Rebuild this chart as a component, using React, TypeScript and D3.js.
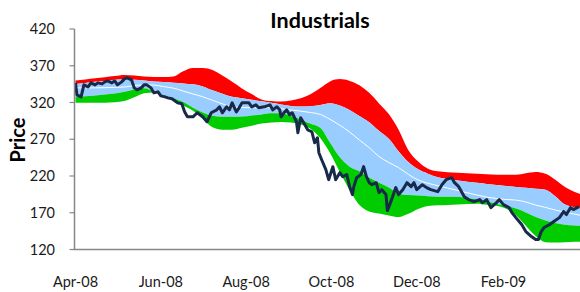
import React from 'react';
import * as d3 from 'd3';

const width = 580;
const height = 292;
const plot = { left: 74.5, right: 580, top: 29, bottom: 249.5 };

const red = '#ff0000';
const blue = '#99ccff';
const green = '#00cc00';
const navy = '#18294a';
const axisGrey = '#878787';
const font = 'Lato, "Open Sans", sans-serif';

const title = 'Industrials';
const yLabel = 'Price';
const yTicks = [120, 170, 220, 270, 320, 370, 420];
const xTicks = ['2008-04-01', '2008-06-01', '2008-08-01', '2008-10-01', '2008-12-01', '2009-02-01'];
const xDomain = ['2008-04-01', '2009-03-28'];

// bands are weekly readings starting on bandStart
const bandStart = '2008-04-01';
const upperOuter = [350.1, 351.4, 353.1, 354.4, 355.9, 357.3, 356.7, 355.5, 354.8, 354.8, 355.5, 362.6, 367.1, 367.1, 364.2, 356.6, 348.1, 339.1, 331.4, 324.2, 321.9, 321.2, 322.8, 325.9, 331.2, 339.6, 348.7, 351.9, 349.4, 343.4, 333.1, 318.7, 304.2, 282.9, 255.1, 239.7, 229.9, 226.3, 225.2, 224.4, 223.6, 222.9, 222.3, 221.8, 221.8, 221.8, 223.8, 225.5, 223.2, 215, 205.2, 198.3, 193.3];
const upperInner = [345.3, 346.7, 348.1, 349.4, 350.8, 351.7, 351, 350.1, 348.6, 347.8, 347, 346, 344.7, 341.9, 336.5, 332, 327.7, 325.7, 323.6, 321.7, 319.8, 317.4, 315.3, 314.4, 314.8, 316.6, 318.9, 315.9, 309.8, 301.6, 293.1, 281.5, 270.7, 253.7, 239, 229.1, 223.2, 218.3, 215.8, 213.9, 212.3, 210.9, 209.2, 207.8, 206.3, 205.1, 203.9, 202.7, 201.4, 192.6, 181.1, 177.5, 176.3];
const middle = [339.9, 339.9, 339.9, 340.2, 340.6, 341.1, 342.9, 344, 343.7, 341.7, 339.5, 335.6, 331.6, 327.8, 322.9, 318.2, 314.1, 313.4, 312.8, 312.8, 312.8, 311.4, 309.8, 308.3, 306.4, 303.8, 297, 289.1, 279.8, 269, 258.5, 246.5, 238.4, 231.4, 222.2, 214.6, 210.1, 206.9, 203.6, 200.4, 197.2, 194.2, 191.3, 189.4, 188, 187.2, 184.6, 180.5, 177.3, 173.7, 170.8, 168, 165.5];
const lowerInner = [327.7, 328.6, 329.6, 330.8, 332.3, 334.5, 337.6, 339.5, 335.2, 330, 325.8, 320.6, 312.8, 306.4, 301.9, 300.5, 300.5, 300.8, 302.3, 303.8, 305.3, 305.3, 301.5, 297, 291, 285.6, 265.2, 245.4, 232.7, 226.4, 217.7, 210.9, 204.4, 196.3, 194, 193.3, 192.6, 191.9, 191.9, 191.8, 189.8, 188.3, 185.3, 182.4, 178.9, 175.9, 170.4, 164.1, 159.6, 156.2, 153.7, 152.7, 151.9];
const lowerOuter = [319.5, 319.5, 319.5, 319.8, 320.5, 322, 327, 332.6, 333.5, 329.3, 322, 315.9, 308.7, 297.4, 286.2, 282.9, 282.9, 285.6, 288.3, 291.4, 292.8, 293.5, 292.7, 290.2, 284.4, 271.8, 251.4, 225.6, 200.9, 180.5, 171.7, 168.9, 166.3, 164.2, 168.6, 175.2, 179.2, 180.1, 180.7, 181.1, 181.8, 182.4, 180.9, 179.6, 175.5, 166.7, 152.3, 138.2, 129.8, 129.5, 129.8, 130.4, 130.9];

const priceDates = [
  '2008-04-01', '2008-04-02', '2008-04-05', '2008-04-07', '2008-04-10', '2008-04-12', '2008-04-15', '2008-04-17', '2008-04-20', '2008-04-22',
  '2008-04-24', '2008-04-27', '2008-04-29', '2008-05-01', '2008-05-04', '2008-05-06', '2008-05-08', '2008-05-11', '2008-05-13', '2008-05-15',
  '2008-05-18', '2008-05-20', '2008-05-22', '2008-05-25', '2008-05-27', '2008-05-30', '2008-06-01', '2008-06-04', '2008-06-06', '2008-06-09',
  '2008-06-11', '2008-06-13', '2008-06-16', '2008-06-18', '2008-06-20', '2008-06-24', '2008-06-27', '2008-07-01', '2008-07-04', '2008-07-07',
  '2008-07-11', '2008-07-13', '2008-07-15', '2008-07-18', '2008-07-20', '2008-07-22', '2008-07-25', '2008-07-27', '2008-07-29', '2008-08-01',
  '2008-08-03', '2008-08-05', '2008-08-08', '2008-08-10', '2008-08-14', '2008-08-18', '2008-08-20', '2008-08-23', '2008-08-25', '2008-08-26',
  '2008-08-28', '2008-08-30', '2008-09-01', '2008-09-03', '2008-09-06', '2008-09-07', '2008-09-09', '2008-09-12', '2008-09-14', '2008-09-17',
  '2008-09-19', '2008-09-21', '2008-09-22', '2008-09-24', '2008-09-27', '2008-09-29', '2008-10-02', '2008-10-04', '2008-10-07', '2008-10-09',
  '2008-10-12', '2008-10-14', '2008-10-16', '2008-10-17', '2008-10-19', '2008-10-22', '2008-10-24', '2008-10-26', '2008-10-28', '2008-10-30',
  '2008-11-02', '2008-11-04', '2008-11-06', '2008-11-09', '2008-11-10', '2008-11-13', '2008-11-16', '2008-11-18', '2008-11-21', '2008-11-24',
  '2008-11-27', '2008-11-29', '2008-12-01', '2008-12-05', '2008-12-08', '2008-12-11', '2008-12-16', '2008-12-19', '2008-12-22', '2008-12-26',
  '2008-12-28', '2008-12-31', '2009-01-04', '2009-01-07', '2009-01-11', '2009-01-15', '2009-01-17', '2009-01-20', '2009-01-23', '2009-01-27',
  '2009-01-29', '2009-02-01', '2009-02-05', '2009-02-07', '2009-02-11', '2009-02-14', '2009-02-17', '2009-02-21', '2009-02-24', '2009-02-26',
  '2009-02-28', '2009-03-02', '2009-03-06', '2009-03-09', '2009-03-13', '2009-03-16', '2009-03-18', '2009-03-21', '2009-03-23', '2009-03-27',
];
const priceValues = [
  346.7, 330.4, 327.7, 344, 341.3, 346.7, 344, 346.7, 345.3, 348.1,
  349.4, 346.7, 349.4, 344, 348.1, 352.1, 353.5, 350.8, 339.9, 337.2,
  339.9, 344, 344, 339.9, 333.1, 334.5, 329, 327.7, 326.3, 325,
  322.3, 319.5, 318.2, 307.3, 300.5, 300.5, 306, 300.5, 293.8, 306,
  310, 314.1, 306, 314.1, 310, 319.5, 307.3, 312.8, 319.5, 319.5,
  319.5, 314.1, 316.8, 312.8, 314.1, 316.8, 310, 314.1, 310, 300.5,
  306, 310, 303.3, 306, 293.8, 278.8, 299.2, 289.7, 282.9, 280.2,
  265.2, 272, 251.7, 242.2, 228.6, 215, 232.7, 215, 224.5, 219.1,
  221.8, 205.5, 194.7, 205.5, 217.7, 221.8, 232.7, 219.1, 210.9, 208.2,
  210.9, 197.4, 201.4, 194.7, 172.9, 187.9, 204.2, 194.7, 201.4, 210.9,
  205.5, 210.9, 201.4, 208.2, 204.2, 201.4, 198.7, 208.2, 215, 217.7,
  210.9, 205.5, 191.9, 187.9, 185.2, 187.9, 183.8, 187.9, 177, 183.8,
  187.9, 181.1, 177, 170.2, 160.7, 153.9, 144.4, 137.6, 133.6, 133.6,
  144.4, 149.9, 153.9, 158, 163.4, 171.6, 167.5, 177, 174.3, 178.4,
];

const parse = d3.timeParse('%Y-%m-%d');
const x = d3.scaleTime().domain(xDomain.map(d => parse(d) as Date)).range([75.5, 580.4]);
const y = d3.scaleLinear().domain([120, 420]).range([plot.bottom, plot.top]);
const fmt = d3.timeFormat('%b-%y');

const start = parse(bandStart) as Date;
const bandDates = upperOuter.map((_, i) => d3.timeDay.offset(start, i * 7));

function bandArea(top: number[], bottom: number[]) {
  return d3.area<number>()
    .x(i => x(bandDates[i]))
    .y0(i => y(bottom[i]))
    .y1(i => y(top[i]))
    .curve(d3.curveMonotoneX)(d3.range(top.length));
}

export default function App() {
  const midLine = d3.line<number>()
    .x(i => x(bandDates[i]))
    .y(i => y(middle[i]))
    .curve(d3.curveMonotoneX)(d3.range(middle.length));
  const priceLine = d3.line<number>()
    .x(i => x(parse(priceDates[i]) as Date))
    .y(i => y(priceValues[i]))(d3.range(priceValues.length));

  return (
    <svg width={width} height={height} style={{ position: 'absolute', left: 0, top: 0, background: '#fff' }} fontFamily={font}>
      <defs>
        <clipPath id='plotClip'>
          <rect x={plot.left} y={plot.top - 10} width={plot.right - plot.left} height={plot.bottom - plot.top + 10} />
        </clipPath>
      </defs>
      <g clipPath='url(#plotClip)'>
        <path d={bandArea(upperOuter, upperInner) || ''} fill={red} />
        <path d={bandArea(upperInner, lowerInner) || ''} fill={blue} />
        <path d={bandArea(lowerInner, lowerOuter) || ''} fill={green} />
        <path d={midLine || ''} fill='none' stroke='#fff' strokeWidth='1' />
        <path d={priceLine || ''} fill='none' stroke={navy} strokeWidth='3' strokeLinejoin='round' />
      </g>
      {/* axes */}
      <line x1={plot.left} x2={plot.left} y1={plot.top} y2={plot.bottom} stroke={axisGrey} strokeWidth='1.5' />
      <line x1={plot.left - 0.75} x2={plot.right} y1={plot.bottom} y2={plot.bottom} stroke={axisGrey} strokeWidth='1.5' />
      {yTicks.map(t => (
        <g key={t}>
          <line x1={plot.left - 5} x2={plot.left} y1={y(t)} y2={y(t)} stroke={axisGrey} strokeWidth='1.2' />
          <text x={55} y={y(t)} dy='0.35em' textAnchor='end' fontSize='14.5' fill='#1a1a1a'>{t}</text>
        </g>
      ))}
      {xTicks.map(t => {
        const d = parse(t) as Date;
        return (
          <text key={t} x={x(d)} y={287} textAnchor='middle' fontSize='14.5' fill='#1a1a1a'>{fmt(d)}</text>
        );
      })}
      <text x={320} y={28} textAnchor='middle' fontSize='21.5' fontWeight='bold' fill='#000'>{title}</text>
      <text transform={`translate(25, 140) rotate(-90)`} textAnchor='middle' fontSize='20' fontWeight='bold' fill='#000'>{yLabel}</text>
    </svg>
  );
}
